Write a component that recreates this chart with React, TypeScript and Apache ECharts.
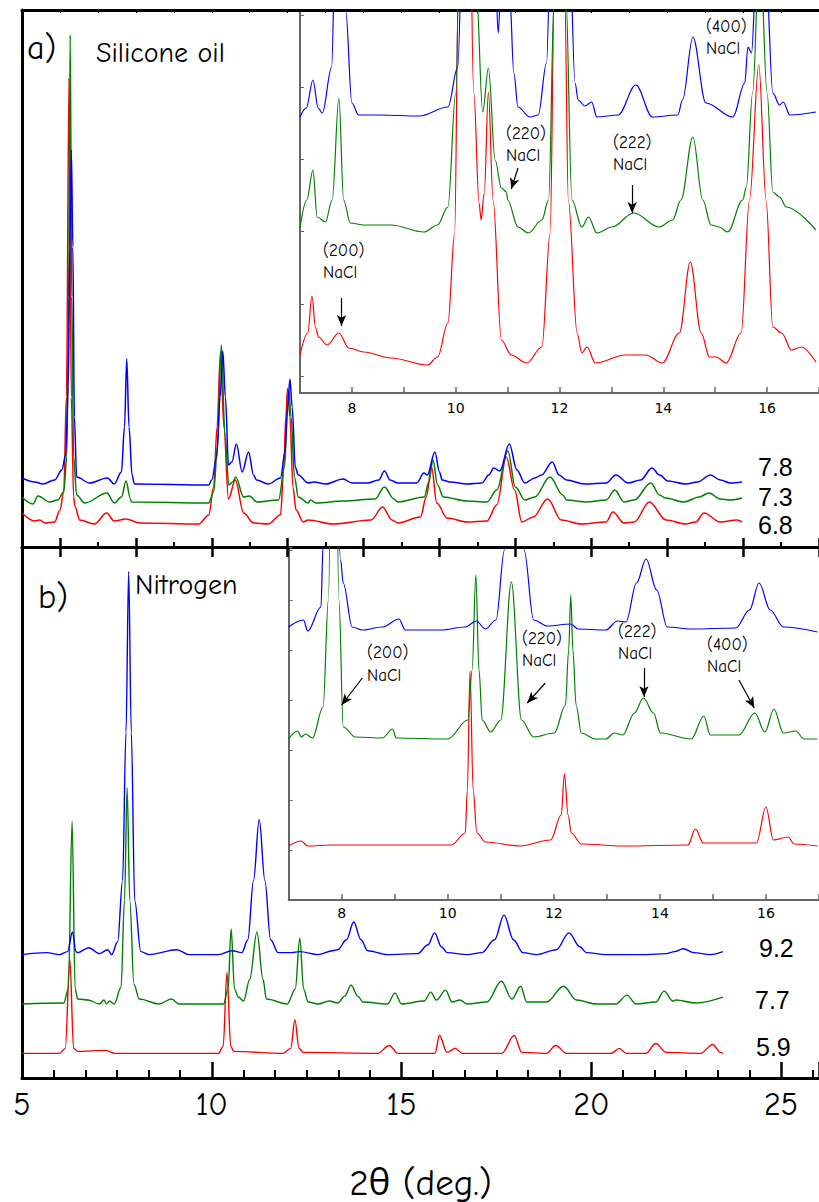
import React, { useEffect, useRef } from 'react';
import * as echarts from 'echarts';

const BLUE = '#0000ff';
const GREEN = '#008000';
const RED = '#ff0000';
const COMIC = "'Comic Sans MS', 'Comic Neue', 'Open Sans', sans-serif";
const ARIAL = "Arial, 'Liberation Sans', sans-serif";
const VERD = "Verdana, 'DejaVu Sans', sans-serif";

// ---- Panel a (silicone oil), main pattern, arbitrary intensity units ----
const aBlue = [[5.0,69],[5.34,65],[5.55,63],[5.86,67],[6.05,77],[6.15,92],[6.22,160],[6.26,300],[6.30,397],[6.34,300],[6.38,130],[6.44,70],[6.78,64],[7.25,69],[7.43,63],[7.62,75],[7.70,120],[7.76,188],[7.82,120],[7.90,72],[7.96,63],[9.92,62],[10.0,67],[10.13,90],[10.22,150],[10.29,196],[10.36,150],[10.44,82],[10.53,85],[10.65,103],[10.80,75],[10.97,95],[11.10,72],[11.18,67],[11.49,63],[11.81,69],[11.93,95],[12.0,140],[12.06,168],[12.12,140],[12.20,80],[12.28,72],[12.54,64],[12.70,65],[13.0,63],[13.46,68],[13.7,64],[14.11,64],[14.40,67],[14.55,76],[14.70,67],[14.90,64],[15.40,64],[15.59,74],[15.68,72],[15.88,95],[16.0,75],[16.07,67],[16.28,65],[16.73,63],[17.12,64],[17.30,72],[17.43,79],[17.59,76],[17.84,103],[18.04,77],[18.25,64],[18.51,69],[18.69,72],[18.97,85],[19.15,72],[19.35,67],[19.82,63],[20.39,64],[20.65,72],[20.97,64],[21.30,67],[21.60,79],[21.80,72],[22.02,66],[22.49,63],[22.80,65],[23.14,72],[23.40,67],[23.66,64],[23.97,65]];
const aGreen = [[5.0,50],[5.29,43],[5.42,51],[5.73,45],[5.94,47],[6.10,55],[6.18,90],[6.23,250],[6.27,512],[6.31,250],[6.36,90],[6.44,52],[6.65,44],[7.24,54],[7.43,44],[7.62,50],[7.74,66],[7.86,48],[7.88,45],[9.92,44],[10.05,55],[10.15,100],[10.25,202],[10.35,110],[10.45,62],[10.55,65],[10.63,70],[10.84,50],[10.99,51],[11.19,45],[11.76,47],[11.92,80],[11.98,130],[12.03,157],[12.09,130],[12.18,70],[12.28,50],[12.54,44],[12.60,47],[12.75,44],[13.46,46],[14.30,48],[14.55,60],[14.80,48],[14.90,45],[15.60,50],[15.72,65],[15.83,87],[15.95,62],[16.10,50],[16.73,46],[17.25,45],[17.51,57],[17.80,96],[18.0,60],[18.25,47],[18.51,50],[18.91,70],[19.25,52],[19.35,47],[19.87,45],[20.39,47],[20.62,57],[20.86,45],[21.13,47],[21.57,64],[21.80,52],[21.95,49],[22.44,45],[22.84,50],[23.10,54],[23.40,48],[23.66,47],[23.97,49]];
const aRed = [[5.0,34],[5.34,26],[5.47,27],[5.60,24],[5.86,25],[6.0,37],[6.10,55],[6.17,150],[6.24,469],[6.30,150],[6.36,50],[6.40,40],[6.52,27],[6.91,23],[7.23,34],[7.43,26],[7.74,28],[8.10,24],[9.66,23],[9.92,32],[10.05,60],[10.14,120],[10.23,195],[10.32,120],[10.44,48],[10.62,67],[10.84,34],[11.10,24],[11.49,23],[11.81,32],[11.90,80],[11.95,130],[12.0,159],[12.06,130],[12.14,60],[12.22,37],[12.41,25],[12.54,27],[13.20,23],[14.20,27],[14.50,40],[14.75,27],[14.90,24],[15.50,30],[15.65,50],[15.79,80],[15.93,44],[16.20,29],[16.73,25],[17.25,26],[17.51,42],[17.76,90],[17.98,57],[18.17,25],[18.47,30],[18.85,48],[19.21,27],[19.73,23],[20.39,25],[20.57,35],[20.86,24],[21.13,25],[21.53,45],[21.97,27],[22.49,23],[22.75,25],[22.97,34],[23.40,25],[23.84,27],[23.97,25]];

// ---- Panel b (nitrogen), main pattern ----
const bBlue = [[5.0,125],[5.65,127],[5.99,125],[6.20,128],[6.33,148],[6.42,128],[6.47,127],[6.76,132],[7.04,126],[7.26,130],[7.36,125],[7.52,138],[7.65,200],[7.74,350],[7.81,513],[7.88,350],[7.97,180],[8.13,128],[8.35,125],[9.08,130],[9.40,125],[10.18,125],[10.53,129],[10.79,127],[10.95,140],[11.10,200],[11.25,262],[11.40,200],[11.55,140],[11.75,127],[12.10,127],[12.32,128],[12.80,125],[13.19,129],[13.32,130],[13.55,140],[13.74,158],[13.93,140],[14.11,129],[14.63,125],[15.42,126],[15.70,135],[15.87,147],[16.05,133],[16.20,127],[16.73,125],[17.12,127],[17.45,140],[17.70,165],[17.95,140],[18.20,127],[18.56,125],[19.08,130],[19.41,147],[19.70,133],[19.87,127],[20.39,125],[21.44,125],[21.97,126],[22.20,128],[22.42,131],[22.70,127],[23.14,125],[23.47,128]];
const bGreen = [[5.0,75],[6.10,76],[6.22,90],[6.32,260],[6.40,90],[6.47,80],[6.74,79],[7.04,75],[7.16,79],[7.23,75],[7.30,78],[7.43,75],[7.61,92],[7.70,180],[7.77,294],[7.84,180],[7.95,95],[8.09,80],[8.61,75],[8.94,80],[9.14,75],[10.31,75],[10.43,90],[10.51,151],[10.60,90],[10.70,82],[10.84,78],[11.0,100],[11.19,148],[11.35,100],[11.44,80],[11.99,75],[12.20,90],[12.32,142],[12.42,90],[12.54,77],[12.80,75],[13.10,78],[13.32,76],[13.50,83],[13.67,94],[13.85,83],[13.98,77],[14.63,75],[14.83,86],[15.0,75],[15.60,78],[15.77,87],[15.92,79],[16.16,89],[16.33,77],[16.54,79],[16.73,75],[17.25,77],[17.63,98],[17.91,80],[18.14,93],[18.30,77],[18.82,77],[19.27,93],[19.61,79],[20.13,75],[20.65,75],[20.94,84],[21.18,75],[21.70,77],[21.92,88],[22.15,78],[22.23,79],[22.75,76],[23.47,82]];
const bRed = [[5.0,25],[5.99,25],[6.14,30],[6.26,120],[6.36,30],[6.47,27],[7.22,28],[7.43,25],[10.18,25],[10.30,32],[10.40,107],[10.50,32],[10.58,27],[11.88,25],[12.08,30],[12.19,59],[12.30,30],[12.41,26],[14.37,25],[14.68,33],[14.90,25],[15.88,25],[16.0,43],[16.20,26],[16.42,30],[16.60,25],[17.64,25],[17.97,43],[18.17,26],[18.82,25],[19.06,33],[19.35,25],[20.52,25],[20.74,30],[20.92,25],[21.44,25],[21.70,35],[21.97,26],[22.88,25],[23.20,34],[23.40,26],[23.47,25]];

// ---- Inset a ----
const iaBlue = [[7.0,276],[7.12,285],[7.25,313],[7.35,285],[7.43,280],[7.61,326],[7.68,450],[7.75,900],[7.82,450],[7.88,383],[8.0,290],[8.13,278],[8.53,278],[9.30,277],[9.85,286],[10.04,326],[10.15,500],[10.30,1100],[10.50,500],[10.65,600],[10.76,420],[10.82,360],[10.88,420],[10.95,550],[11.04,400],[11.12,320],[11.20,286],[11.43,276],[11.59,278],[11.75,330],[11.85,500],[12.0,1100],[12.17,500],[12.30,310],[12.36,293],[12.49,287],[12.62,291],[12.72,276],[13.13,278],[13.47,308],[13.79,276],[14.28,278],[14.37,293],[14.57,356],[14.82,290],[15.34,276],[15.57,310],[15.63,346],[15.70,340],[15.79,420],[15.89,700],[15.98,420],[16.11,300],[16.24,288],[16.31,291],[16.44,278],[16.94,281]];
const iaGreen = [[7.0,165],[7.13,193],[7.25,223],[7.33,176],[7.49,171],[7.62,193],[7.75,295],[7.84,193],[7.97,170],[8.23,168],[8.75,168],[9.39,161],[9.65,168],[9.85,186],[10.0,300],[10.18,1000],[10.40,400],[10.52,281],[10.63,325],[10.76,233],[10.88,205],[10.98,201],[11.0,193],[11.20,166],[11.40,160],[11.66,173],[11.79,193],[11.90,400],[12.0,1000],[12.12,400],[12.24,193],[12.43,166],[12.56,176],[12.72,160],[13.01,166],[13.43,180],[13.92,166],[14.18,173],[14.34,193],[14.57,256],[14.76,193],[14.92,168],[15.08,166],[15.24,161],[15.53,193],[15.60,206],[15.72,300],[15.86,450],[16.0,300],[16.11,201],[16.24,196],[16.37,186],[16.94,163]];
const iaRed = [[7.0,38],[7.15,60],[7.23,97],[7.30,65],[7.36,56],[7.52,48],[7.75,60],[7.94,45],[8.23,41],[8.75,35],[9.46,28],[9.65,36],[9.85,70],[9.98,160],[10.05,400],[10.18,1000],[10.35,300],[10.45,190],[10.49,173],[10.55,200],[10.63,301],[10.72,193],[10.88,53],[11.07,38],[11.37,30],[11.66,46],[11.82,160],[11.90,400],[12.0,1000],[12.10,400],[12.17,193],[12.34,60],[12.43,40],[12.53,46],[12.69,30],[13.27,38],[13.66,38],[13.98,30],[14.31,60],[14.52,131],[14.73,60],[14.89,36],[15.02,36],[15.21,30],[15.50,60],[15.66,193],[15.84,328],[15.98,193],[16.11,66],[16.28,60],[16.47,43],[16.66,46],[16.94,31]];

// ---- Inset b ----
const ibBlue = [[7.0,273],[7.28,280],[7.36,269],[7.61,293],[7.65,355],[7.81,800],[7.98,340],[8.03,317],[8.20,273],[8.39,270],[8.77,273],[9.08,281],[9.20,270],[9.87,270],[10.33,273],[10.54,279],[10.71,271],[10.91,280],[11.07,350],[11.25,800],[11.44,350],[11.62,280],[11.88,274],[12.32,276],[12.46,271],[12.98,270],[13.20,279],[13.36,278],[13.56,317],[13.74,341],[13.94,310],[14.14,273],[14.59,271],[15.43,272],[15.69,290],[15.87,317],[16.08,290],[16.33,273],[16.97,268]];
const ibGreen = [[7.0,161],[7.17,169],[7.24,163],[7.32,166],[7.45,162],[7.65,193],[7.75,300],[7.85,700],[7.95,300],[8.03,173],[8.26,163],[8.77,162],[8.96,171],[9.03,162],[10.0,161],[10.38,180],[10.46,230],[10.53,325],[10.59,230],[10.65,180],[10.81,168],[11.0,180],[11.20,318],[11.39,180],[11.62,163],[12.01,167],[12.22,195],[12.28,250],[12.32,305],[12.36,250],[12.42,195],[12.52,167],[12.78,161],[12.98,161],[13.14,167],[13.30,165],[13.52,187],[13.69,202],[13.88,187],[14.01,167],[14.59,161],[14.83,184],[14.95,165],[15.49,165],[15.79,187],[15.98,168],[16.15,191],[16.33,167],[16.56,169],[16.72,161],[16.97,161]];
const ibRed = [[7.0,54],[7.24,59],[7.36,54],[7.81,55],[10.07,55],[10.33,67],[10.37,110],[10.42,229],[10.48,110],[10.55,67],[10.71,58],[11.36,54],[11.94,60],[12.14,85],[12.20,126],[12.27,85],[12.33,67],[12.52,56],[13.30,54],[14.53,55],[14.67,71],[14.82,57],[15.82,57],[16.0,93],[16.14,60],[16.42,63],[16.53,56],[16.97,54]];

// ---- Ticks / labels ----
const mainLabels = [5, 10, 15, 20, 25];
const sepEven = [6, 8, 10, 12, 14, 16, 18, 20, 22, 24, 26];
const sepOdd = [7, 9, 11, 13, 15, 17, 19, 21, 23, 25];
const topTicks = [6, 7, 8, 9, 10, 11, 12, 13, 14, 15, 16, 17, 18, 19, 20, 21, 22, 23, 24, 25];
const insetLabels = [8, 10, 12, 14, 16];
const insetATicksY = [17, 89, 162, 234, 306, 378];

// arrows: [x1, y1, x2, y2] in inset data units
const insetAArrows = [[11.20, 225, 11.07, 204], [13.40, 208, 13.40, 180], [7.80, 95, 7.80, 67]];
const insetBArrows = [[8.39, 222, 8.00, 195], [11.84, 217, 11.50, 197], [13.70, 232, 13.70, 203], [15.49, 220, 15.78, 192]];

const sampleLabelsA = ['7.8', '7.3', '6.8'];
const sampleLabelsB = ['9.2', '7.7', '5.9'];

export default function App() {
  const ref = useRef<HTMLDivElement>(null);
  useEffect(() => {
    if (!ref.current) return;
    const chart = echarts.init(ref.current, null, { renderer: 'svg' });

    const line = (name: string, data: number[][], color: string, xi: number, yi: number, w = 1.4, extra: any = {}) => ({
      name, type: 'line', data, xAxisIndex: xi, yAxisIndex: yi, showSymbol: false, symbol: 'none',
      smooth: 0.35, smoothMonotone: 'x', clip: true, silent: true,
      lineStyle: { color, width: w }, ...extra,
    });
    const arrows = (arr: number[][]) => ({
      silent: true, symbol: ['none', 'arrow'], symbolSize: [7, 11],
      lineStyle: { color: '#000', width: 1.2, type: 'solid' }, label: { show: false },
      data: arr.map(a => [{ coord: [a[0], a[1]] }, { coord: [a[2], a[3]] }]),
    });

    const blackLine = { show: true, onZero: false, lineStyle: { color: '#000', width: 3 } };
    const grayLine = { show: true, onZero: false, lineStyle: { color: '#666', width: 2 } };
    const none = { show: false };

    const txt = (text: string, x: number, y: number, size: number, family: string) => ({
      type: 'text', x, y, silent: true,
      style: { text, fontSize: size, fontFamily: family, fill: '#000', verticalAlign: 'middle', align: 'left' },
    });

    const option: any = {
      animation: false,
      backgroundColor: '#fff',
      grid: [
        { left: 22, top: 10, width: 802, height: 537 },   // 0 panel a
        { left: 22, top: 547, width: 802, height: 538 },  // 1 panel b
        { left: 300, top: 10, width: 522, height: 383 },  // 2 inset a
        { left: 288.6, top: 547, width: 532, height: 353 }, // 3 inset b
        { left: 22, top: 10, width: 802, height: 537 },   // 4 panel a extra ticks
      ],
      xAxis: [
        { gridIndex: 0, type: 'value', min: 5, max: 26, position: 'bottom', axisLine: blackLine,
          axisTick: { show: true, inside: true, length: 5, customValues: sepOdd, lineStyle: { color: '#000', width: 2 } },
          axisLabel: none, splitLine: none },
        { gridIndex: 1, type: 'value', min: 5, max: 26, interval: 5, position: 'bottom', axisLine: blackLine,
          axisTick: { show: true, inside: true, length: 16, lineStyle: { color: '#000', width: 2.5 } },
          minorTick: { show: true, splitNumber: 6, length: 8, lineStyle: { color: '#000', width: 2 } },
          axisLabel: { show: true, customValues: mainLabels, fontSize: 32, fontFamily: COMIC, color: '#000', margin: 10 },
          splitLine: none, minorSplitLine: none,
          name: '2\u03b8 (deg.)', nameLocation: 'middle', nameGap: 86,
          nameTextStyle: { fontSize: 37, fontFamily: COMIC, color: '#000' } },
        { gridIndex: 2, type: 'value', min: 7, max: 17, interval: 1, position: 'bottom', axisLine: grayLine,
          axisTick: { show: true, inside: true, length: 6, lineStyle: { color: '#666', width: 1.5 } },
          axisLabel: { show: true, customValues: insetLabels, fontSize: 14, fontFamily: VERD, color: '#000', margin: 8 },
          splitLine: none },
        { gridIndex: 3, type: 'value', min: 7, max: 17, interval: 1, position: 'bottom', axisLine: grayLine,
          axisTick: { show: true, inside: true, length: 6, lineStyle: { color: '#666', width: 1.5 } },
          axisLabel: { show: true, customValues: insetLabels, fontSize: 14, fontFamily: VERD, color: '#000', margin: 6 },
          splitLine: none },
        { gridIndex: 0, type: 'value', min: 5, max: 26, position: 'top', axisLine: blackLine,
          axisTick: { show: true, inside: true, length: 3, customValues: topTicks, lineStyle: { color: '#000', width: 1 } },
          axisLabel: none, splitLine: none },
        { gridIndex: 1, type: 'value', min: 5, max: 26, position: 'top', axisLine: blackLine,
          axisTick: { show: true, inside: true, length: 10, customValues: sepEven, lineStyle: { color: '#000', width: 2.5 } },
          axisLabel: none, splitLine: none },
        { gridIndex: 4, type: 'value', min: 5, max: 26, position: 'bottom', axisLine: none,
          axisTick: { show: true, inside: true, length: 9, customValues: sepEven, lineStyle: { color: '#000', width: 2.5 } },
          axisLabel: none, splitLine: none },
      ],
      yAxis: [
        { gridIndex: 0, type: 'value', min: 0, max: 537, axisLine: blackLine, axisTick: none, axisLabel: none, splitLine: none },
        { gridIndex: 1, type: 'value', min: 0, max: 538, axisLine: blackLine, axisTick: none, axisLabel: none, splitLine: none },
        { gridIndex: 2, type: 'value', min: 0, max: 383, axisLine: grayLine,
          axisTick: { show: true, inside: true, length: 4, customValues: insetATicksY, lineStyle: { color: '#666' } },
          axisLabel: none, splitLine: none },
        { gridIndex: 3, type: 'value', min: 0, max: 353, interval: 50, axisLine: grayLine,
          axisTick: { show: true, inside: true, length: 4, lineStyle: { color: '#666' } },
          axisLabel: none, splitLine: none },
        { gridIndex: 4, type: 'value', min: 0, max: 537, show: false },
      ],
      series: [
        line('a red', aRed, RED, 0, 0, 1.5),
        line('a green', aGreen, GREEN, 0, 0, 1.5),
        line('a blue', aBlue, BLUE, 0, 0, 1.5),
        line('b red', bRed, RED, 1, 1, 1.4),
        line('b green', bGreen, GREEN, 1, 1, 1.4),
        line('b blue', bBlue, BLUE, 1, 1, 1.4),
        line('inset a red', iaRed, RED, 2, 2, 1.2),
        line('inset a green', iaGreen, GREEN, 2, 2, 1.2),
        line('inset a blue', iaBlue, BLUE, 2, 2, 1.2, { markLine: arrows(insetAArrows) }),
        line('inset b red', ibRed, RED, 3, 3, 1.2),
        line('inset b green', ibGreen, GREEN, 3, 3, 1.2),
        line('inset b blue', ibBlue, BLUE, 3, 3, 1.2, { markLine: arrows(insetBArrows) }),
      ],
      graphic: [
        txt('a)', 27, 48, 34, COMIC),
        txt('Silicone oil', 96, 53, 28, COMIC),
        txt('b)', 38, 597, 34, COMIC),
        txt('Nitrogen', 135, 585, 28, COMIC),
        txt(sampleLabelsA[0], 758, 467, 25, ARIAL),
        txt(sampleLabelsA[1], 758, 497, 25, ARIAL),
        txt(sampleLabelsA[2], 758, 525, 25, ARIAL),
        txt(sampleLabelsB[0], 759, 948, 25, ARIAL),
        txt(sampleLabelsB[1], 755, 1000, 25, ARIAL),
        txt(sampleLabelsB[2], 756, 1047, 25, ARIAL),
        txt('(400)', 706, 26, 17, COMIC), txt('NaCl', 706, 48, 17, COMIC),
        txt('(220)', 506, 133, 17, COMIC), txt('NaCl', 506, 155, 17, COMIC),
        txt('(222)', 613, 142, 17, COMIC), txt('NaCl', 613, 164, 17, COMIC),
        txt('(200)', 323, 250, 17, COMIC), txt('NaCl', 323, 272, 17, COMIC),
        txt('(200)', 367, 652, 17, COMIC), txt('NaCl', 367, 675, 17, COMIC),
        txt('(220)', 522, 638, 17, COMIC), txt('NaCl', 522, 660, 17, COMIC),
        txt('(222)', 618, 631, 17, COMIC), txt('NaCl', 618, 653, 17, COMIC),
        txt('(400)', 707, 644, 17, COMIC), txt('NaCl', 707, 666, 17, COMIC),
      ],
    };
    chart.setOption(option);
    return () => chart.dispose();
  }, []);
  return <div ref={ref} style={{ position: 'absolute', left: 0, top: 0, width: 819, height: 1202, background: '#fff' }} />;
}
